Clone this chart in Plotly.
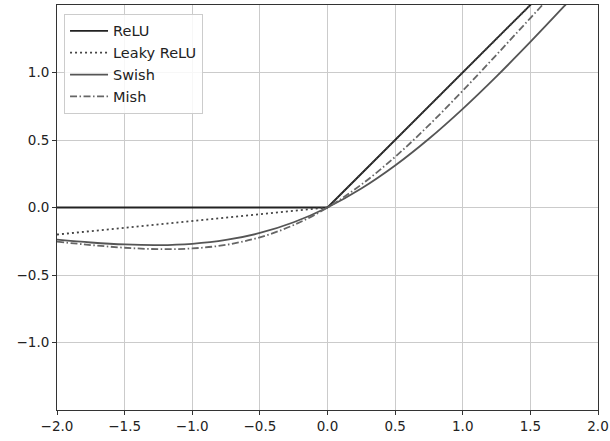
import plotly.graph_objects as go

x_vals = [-2.0, -1.75, -1.5, -1.25, -1.0, -0.75, -0.5, -0.25, 0.0,
          0.25, 0.5, 0.75, 1.0, 1.25, 1.5, 1.75, 2.0]
relu = [0, 0, 0, 0, 0, 0, 0, 0, 0,
        0.25, 0.5, 0.75, 1.0, 1.25, 1.5, 1.75, 2.0]
leaky_relu = [-0.2, -0.175, -0.15, -0.125, -0.1, -0.075, -0.05, -0.025, 0,
              0.25, 0.5, 0.75, 1.0, 1.25, 1.5, 1.75, 2.0]
swish = [-0.2384, -0.2591, -0.2736, -0.2784, -0.2689, -0.2406, -0.1888, -0.1095, 0.0,
         0.1405, 0.3112, 0.5094, 0.7311, 0.9716, 1.2264, 1.4909, 1.7616]
mish = [-0.2525, -0.2780, -0.2981, -0.3084, -0.3034, -0.2765, -0.2207, -0.1299, 0.0,
        0.1696, 0.3752, 0.6100, 0.8651, 1.1319, 1.4034, 1.6749, 1.9440]

x_ticks = [-2.0, -1.5, -1.0, -0.5, 0.0, 0.5, 1.0, 1.5, 2.0]
x_tick_labels = ["\u22122.0", "\u22121.5", "\u22121.0", "\u22120.5", "0.0", "0.5", "1.0", "1.5", "2.0"]
y_ticks = [-1.0, -0.5, 0.0, 0.5, 1.0]
y_tick_labels = ["\u22121.0", "\u22120.5", "0.0", "0.5", "1.0"]

series = [
    ("ReLU", relu, "#222222", "solid", "linear"),
    ("Leaky ReLU", leaky_relu, "#444444", "2px,3px", "linear"),
    ("Swish", swish, "#555555", "solid", "spline"),
    ("Mish", mish, "#666666", "7px,2.5px,1.5px,2.5px", "spline"),
]

fig = go.Figure()
for i, (name, ys, color, dash, shape) in enumerate(series):
    fig.add_trace(go.Scatter(
        x=x_vals, y=ys, mode="lines", name=name, legendgroup=f"g{i}",
        line=dict(color=color, width=1.8, dash=dash, shape=shape),
    ))

axis_common = dict(
    showgrid=True, gridcolor="#cbcbcb", gridwidth=1,
    showline=True, linecolor="#333333", linewidth=1, mirror=True,
    ticks="outside", ticklen=4, tickcolor="#333333", tickwidth=1,
    zeroline=False, automargin=False,
    tickfont=dict(family="DejaVu Sans", size=13.5, color="#222222"),
)

fig.update_layout(
    width=610, height=441,
    margin=dict(l=57, r=12, t=5, b=31),
    plot_bgcolor="white", paper_bgcolor="white",
    xaxis=dict(range=[-2, 2], tickvals=x_ticks, ticktext=x_tick_labels, **axis_common),
    yaxis=dict(range=[-1.5, 1.5], tickvals=y_ticks, ticktext=y_tick_labels, **axis_common),
    legend=dict(
        x=0.013, y=0.978, xanchor="left", yanchor="top",
        bgcolor="rgba(255,255,255,0.85)", bordercolor="#cccccc", borderwidth=1,
        font=dict(family="DejaVu Sans", size=14.5, color="#222222"),
        tracegroupgap=0, itemwidth=38,
    ),
    showlegend=True,
)

fig.write_html("out.html", post_script="document.body.style.margin='0';",
               config={"displayModeBar": False})
